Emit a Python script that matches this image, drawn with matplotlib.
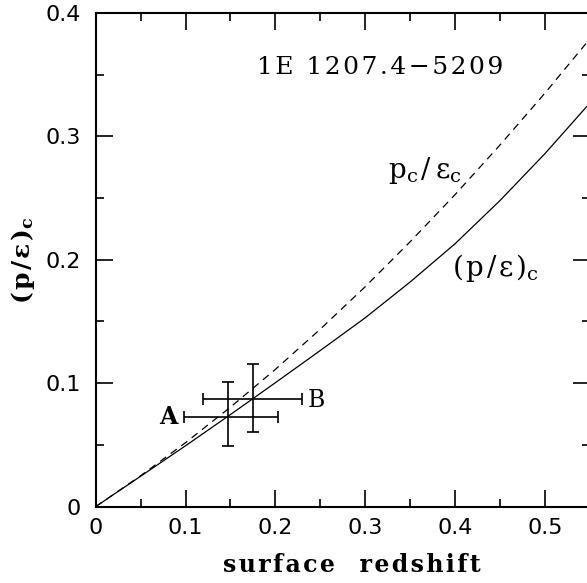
"""Central p/eps vs surface redshift for 1E 1207.4-5209."""

import matplotlib

matplotlib.use("Agg")
import matplotlib.pyplot as plt
from matplotlib.ticker import MultipleLocator, FuncFormatter

# curves
z_grid = [0.0, 0.05, 0.10, 0.15, 0.20, 0.25, 0.30, 0.35, 0.40, 0.45, 0.50, 0.55]
p_eps_c = [0.0, 0.0246, 0.0493, 0.0746, 0.1004, 0.1265, 0.1530, 0.1820, 0.2130, 0.2480, 0.2860, 0.3270]
pc_over_epsc = [0.0, 0.0250, 0.0518, 0.0806, 0.1112, 0.1438, 0.1782, 0.2146, 0.2528, 0.2930, 0.3350, 0.3790]

# the two observed points with error bars
pt_names = ["A", "B"]
pt_z = [0.1467, 0.175]
pt_y = [0.0729, 0.087]
pt_zerr_lo = [0.0482, 0.0554]
pt_zerr_hi = [0.0563, 0.0546]
pt_yerr_lo = [0.0238, 0.0263]
pt_yerr_hi = [0.0283, 0.0283]

SERIF = ["DejaVu Serif"]
HAIR = "\u200a"


def spaced(s: str) -> str:
    # the old plotting fonts are set quite loosely
    return HAIR.join(s)


def tick_fmt(v, _pos):
    if abs(v) < 1e-9:
        return "0"
    return f"{v:.1f}"


def main() -> None:
    plt.rcParams["font.family"] = ["DejaVu Sans"]
    plt.rcParams["mathtext.fontset"] = "dejavuserif"

    fig = plt.figure(figsize=(5.87, 5.83), dpi=100)
    ax = fig.add_axes([0.163, 0.131, 0.842, 0.847])

    ax.plot(z_grid, p_eps_c, color="black", lw=0.9)
    ax.plot(z_grid, pc_over_epsc, color="black", lw=0.9, dashes=(6, 4.5))

    ax.errorbar(
        pt_z,
        pt_y,
        xerr=[pt_zerr_lo, pt_zerr_hi],
        yerr=[pt_yerr_lo, pt_yerr_hi],
        fmt="none",
        ecolor="black",
        elinewidth=1.2,
        capsize=4,
        capthick=1.2,
    )

    ax.set_xlim(0, 0.55)
    ax.set_ylim(0, 0.4)

    ax.xaxis.set_major_locator(MultipleLocator(0.1))
    ax.xaxis.set_minor_locator(MultipleLocator(0.05))
    ax.yaxis.set_major_locator(MultipleLocator(0.1))
    ax.yaxis.set_minor_locator(MultipleLocator(0.05))
    ax.xaxis.set_major_formatter(FuncFormatter(tick_fmt))
    ax.yaxis.set_major_formatter(FuncFormatter(tick_fmt))

    ax.tick_params(which="both", direction="in", top=True, right=True, width=1.2, labelsize=16)
    ax.tick_params(which="major", length=12)
    ax.tick_params(which="minor", length=6)
    ax.tick_params(axis="x", pad=8)
    ax.tick_params(axis="y", pad=11)
    for sp in ax.spines.values():
        sp.set_linewidth(1.5)

    sub_c = "$_\\mathregular{c}$"
    ax.text(0.1792, 0.356, spaced("1E 1207.4\u22125209"), family=SERIF, fontsize=18, va="center", ha="left")
    ax.text(0.325, 0.2725, "p" + sub_c + HAIR + "/" + HAIR + HAIR + "\u03b5" + sub_c,
            family=SERIF, fontsize=20, va="center", ha="left")
    ax.text(0.396, 0.193, spaced("(p/\u03b5)") + sub_c, family=SERIF, fontsize=20, va="center", ha="left")
    ax.text(0.0911, 0.073, pt_names[0], family=SERIF, fontsize=17, fontweight="bold", va="center", ha="right")
    ax.text(0.236, 0.086, pt_names[1], family=SERIF, fontsize=17, va="center", ha="left")

    ax.set_xlabel(spaced("surface") + "   " + spaced("redshift"), family=SERIF, fontsize=17,
                  fontweight="bold")
    ax.xaxis.set_label_coords(0.518, -0.094)
    ax.set_ylabel(spaced("(p/\u03b5)") + sub_c, family=SERIF, fontsize=18, fontweight="bold", labelpad=6)

    fig.savefig("out.png", dpi=100)
    plt.close(fig)


if __name__ == "__main__":
    main()
